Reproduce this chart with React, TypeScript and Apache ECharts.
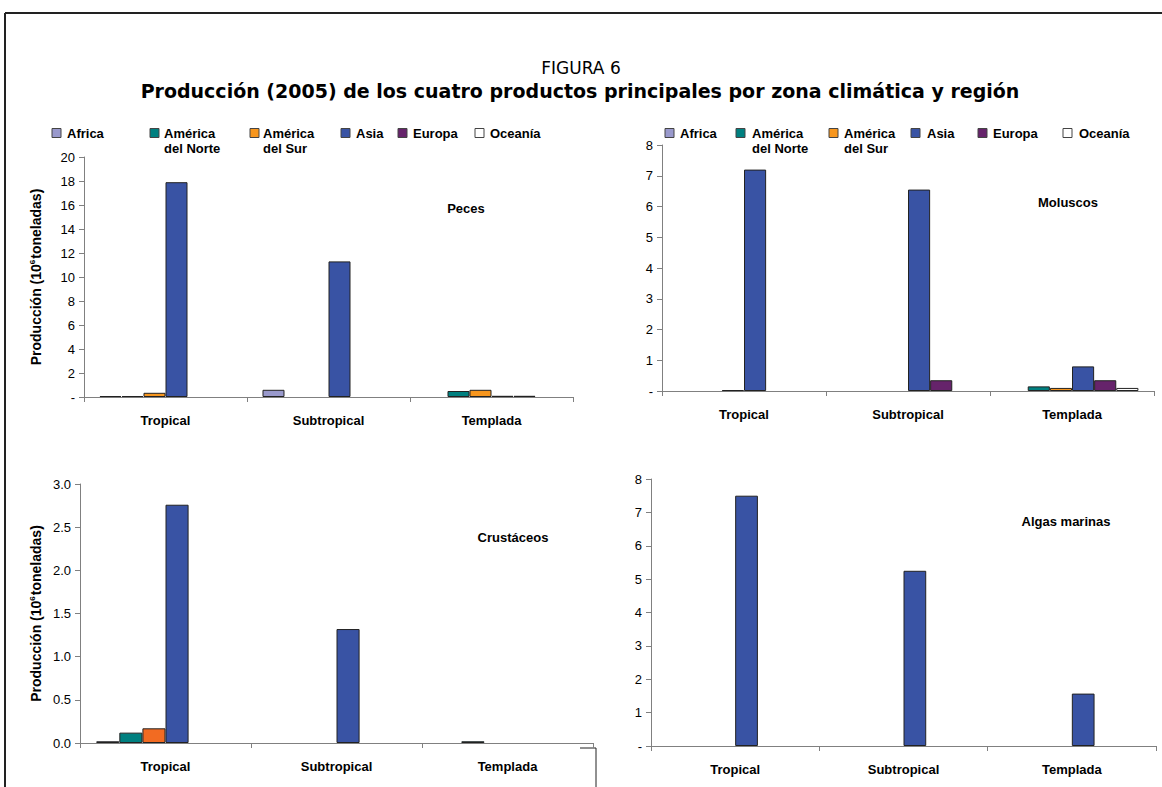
import React, { useEffect, useRef } from "react";
import * as echarts from "echarts";

const categories = ["Tropical", "Subtropical", "Templada"];
const regions = ["Africa", "América del Norte", "América del Sur", "Asia", "Europa", "Oceanía"];
const legendLabels = ["Africa", "América\ndel Norte", "América\ndel Sur", "Asia", "Europa", "Oceanía"];
const colors = ["#9999CC", "#008080", "#F7961E", "#3953A4", "#66236B", "#FFFFFF"];

// values per region: [Tropical, Subtropical, Templada]
const peces = [
  [0.08, 0.6, 0],
  [0.08, 0, 0.5],
  [0.35, 0, 0.6],
  [17.9, 11.3, 0.1],
  [0, 0, 0.1],
  [0, 0, 0],
];
const moluscos = [
  [0, 0, 0],
  [0, 0, 0.15],
  [0.03, 0, 0.1],
  [7.2, 6.55, 0.8],
  [0, 0.35, 0.35],
  [0, 0, 0.1],
];
const crustaceos = [
  [0.02, 0, 0],
  [0.12, 0, 0.02],
  [0.17, 0, 0],
  [2.76, 1.32, 0],
  [0, 0, 0],
  [0, 0, 0],
];
const algas = [
  [0, 0, 0],
  [0, 0, 0],
  [0, 0, 0],
  [7.5, 5.25, 1.57],
  [0, 0, 0],
  [0, 0, 0],
];

const panelNames = ["Peces", "Moluscos", "Crustáceos", "Algas marinas"];
const yMax = [20, 8, 3, 8];
const yInterval = [2, 1, 0.5, 1];

const FONT = "'Liberation Sans', Arial, sans-serif";
const TITLE_FONT = "'DejaVu Sans', Verdana, sans-serif";

export default function App() {
  const ref = useRef<HTMLDivElement>(null);
  useEffect(() => {
    if (!ref.current) return;
    const chart = echarts.init(ref.current, undefined, { renderer: "svg" });

    const grids = [
      { left: 84, top: 157, width: 489, height: 240 },
      { left: 662, top: 145, width: 492, height: 246 },
      { left: 80, top: 484, width: 513, height: 259 },
      { left: 651, top: 479, width: 505, height: 267 },
    ];
    const datasets = [peces, moluscos, crustaceos, algas];
    const barColorsPerPanel = [
      colors,
      colors,
      ["#9999CC", "#008080", "#F26B22", "#3953A4", "#66236B", "#FFFFFF"],
      colors,
    ];

    const yName = {
      rich: {
        a: { fontFamily: FONT, fontWeight: "bold", fontSize: 14, color: "#000" },
        s: { fontFamily: FONT, fontWeight: "bold", fontSize: 8, color: "#000", verticalAlign: "top", padding: [0, 1, 7, 0] },
      },
    };

    const xAxes = grids.map((_, i) => ({
      type: "category",
      gridIndex: i,
      data: categories,
      boundaryGap: true,
      axisLine: { lineStyle: { color: "#808080", width: 1 } },
      axisTick: { show: true, length: 5, lineStyle: { color: "#808080" } },
      axisLabel: { fontFamily: FONT, fontWeight: "bold", fontSize: 13, color: "#000", margin: 17 },
    }));

    const yAxes = grids.map((_, i) => ({
      type: "value",
      gridIndex: i,
      min: 0,
      max: yMax[i],
      interval: yInterval[i],
      splitLine: { show: false },
      axisLine: { show: true, lineStyle: { color: "#808080", width: 1 } },
      axisTick: { show: true, length: 5, lineStyle: { color: "#808080" } },
      axisLabel: {
        fontFamily: FONT,
        fontSize: 13,
        color: "#000",
        margin: 9,
        formatter: (v: number) => (i === 2 ? v.toFixed(1) : v === 0 ? "-" : String(v)),
      },
      name: i === 0 || i === 2 ? "{a|Producción (10}{s|6}{a|toneladas)}" : "",
      nameLocation: "middle",
      nameGap: i === 0 ? 41 : 37,
      nameTextStyle: yName,
    }));

    const series: any[] = [];
    datasets.forEach((ds, gi) => {
      ds.forEach((vals, ri) => {
        series.push({
          type: "bar",
          name: regions[ri],
          xAxisIndex: gi,
          yAxisIndex: gi,
          data: vals.map((v) => (v === 0 ? "-" : v)),
          barGap: "0%",
          barCategoryGap: "19%",
          itemStyle: { color: barColorsPerPanel[gi][ri], borderColor: "#222", borderWidth: 1 },
        });
      });
    });

    const graphics: any[] = [];
    // frame
    graphics.push({ type: "line", shape: { x1: 5, y1: 13, x2: 1162, y2: 13 }, style: { stroke: "#222", lineWidth: 2 } });
    graphics.push({ type: "line", shape: { x1: 5, y1: 13, x2: 5, y2: 787 }, style: { stroke: "#222", lineWidth: 2 } });
    graphics.push({ type: "polyline", shape: { points: [[580, 748], [596, 748], [596, 787]] }, style: { stroke: "#222", fill: null, lineWidth: 1 } });
    // titles
    graphics.push({
      type: "text",
      x: 581,
      y: 68,
      style: { text: "FIGURA 6", fontFamily: TITLE_FONT, fontSize: 17, fill: "#000", textAlign: "center", textVerticalAlign: "middle" },
    });
    graphics.push({
      type: "text",
      x: 580,
      y: 91,
      style: {
        text: "Producción (2005) de los cuatro productos principales por zona climática y región",
        fontFamily: TITLE_FONT,
        fontSize: 19,
        fontWeight: "bold",
        fill: "#000",
        textAlign: "center",
        textVerticalAlign: "middle",
      },
    });
    // legends
    const legendPos = [
      { sq: [52, 150, 250, 341, 398, 475], tx: [67, 164, 263, 356, 413, 490] },
      { sq: [665, 736, 829, 911, 978, 1063], tx: [680, 752, 844, 927, 993, 1079] },
    ];
    legendPos.forEach((lp) => {
      regions.forEach((_, ri) => {
        graphics.push({
          type: "rect",
          shape: { x: lp.sq[ri], y: 128.5, width: 9, height: 9 },
          style: { fill: colors[ri], stroke: "#444", lineWidth: 1 },
        });
        graphics.push({
          type: "text",
          x: lp.tx[ri],
          y: 126,
          style: {
            text: legendLabels[ri],
            fontFamily: FONT,
            fontSize: 13,
            fontWeight: "bold",
            fill: "#000",
            lineHeight: 15,
            textAlign: "left",
            textVerticalAlign: "top",
          },
        });
      });
    });
    // panel labels
    const labelPos = [
      [466, 208],
      [1068, 202],
      [513, 537],
      [1066, 521],
    ];
    panelNames.forEach((n, i) => {
      graphics.push({
        type: "text",
        x: labelPos[i][0],
        y: labelPos[i][1],
        style: { text: n, fontFamily: FONT, fontSize: 13, fontWeight: "bold", fill: "#000", textAlign: "center", textVerticalAlign: "middle" },
      });
    });

    chart.setOption({
      animation: false,
      backgroundColor: "#fff",
      grid: grids,
      xAxis: xAxes,
      yAxis: yAxes,
      series,
      graphic: graphics,
    });
    return () => chart.dispose();
  }, []);
  return <div ref={ref} style={{ position: "absolute", left: 0, top: 0, width: 1162, height: 787 }} />;
}
